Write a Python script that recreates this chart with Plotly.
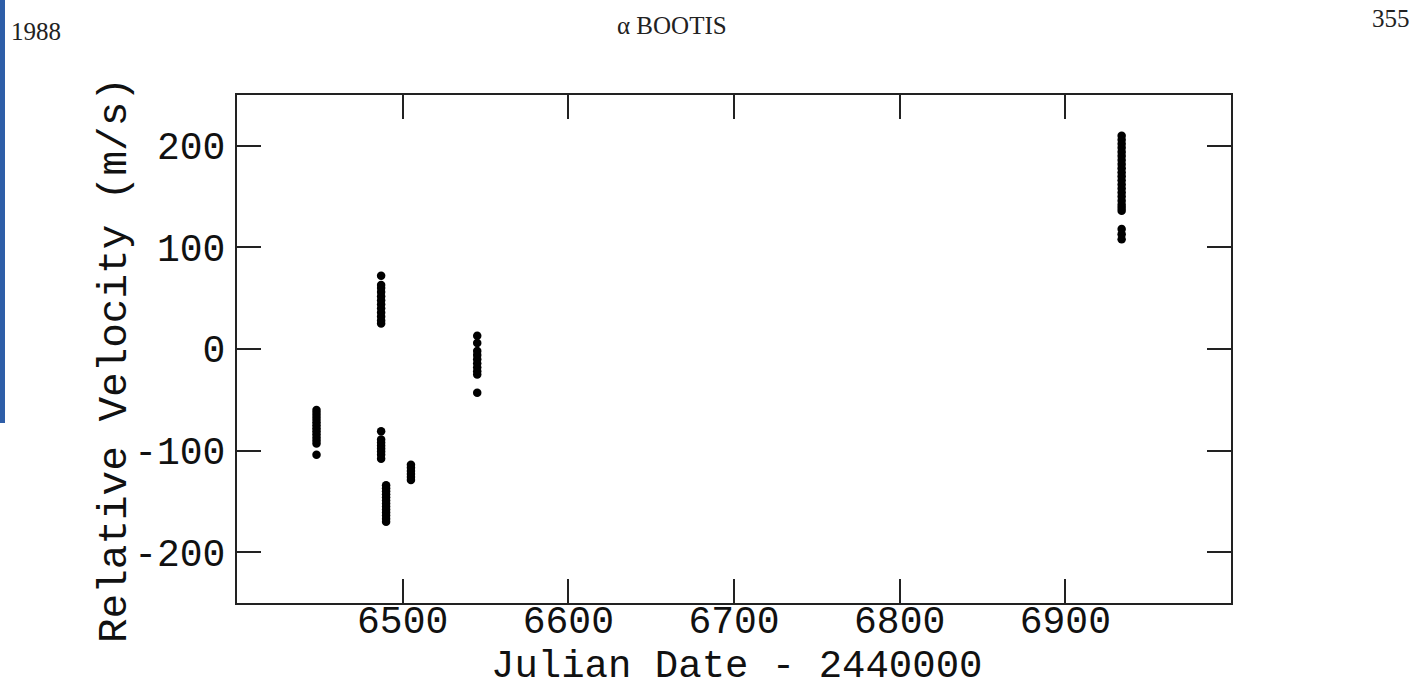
import plotly.graph_objects as go

# ---- data ----
cluster_a_x = [6448] * 13
cluster_a_y = [-60, -63, -66, -69, -72, -75, -78, -81, -84, -87, -90, -93, -104]

cluster_b1_x = [6487] * 12
cluster_b1_y = [72, 63, 60, 56, 52, 48, 44, 40, 36, 32, 28, 25]

cluster_b2_x = [6487] * 8
cluster_b2_y = [-81, -89, -92, -95, -98, -101, -104, -108]

cluster_c_x = [6490] * 13
cluster_c_y = [-134, -137, -140, -143, -146, -149, -152, -155, -158, -161, -164, -167, -170]

cluster_d_x = [6505] * 6
cluster_d_y = [-114, -117, -120, -123, -126, -129]

cluster_e_x = [6545] * 10
cluster_e_y = [13, 6, -2, -6, -10, -14, -18, -22, -25, -43]

cluster_f_x = [6934] * 23
cluster_f_y = [210, 206, 202, 198, 194, 190, 186, 182, 178, 174, 170, 166, 162,
               158, 154, 150, 146, 142, 139, 136, 118, 113, 108]

x_ticks = [6500, 6600, 6700, 6800, 6900]
y_ticks = [-200, -100, 0, 100, 200]

xs = cluster_a_x + cluster_b1_x + cluster_b2_x + cluster_c_x + cluster_d_x + cluster_e_x + cluster_f_x
ys = cluster_a_y + cluster_b1_y + cluster_b2_y + cluster_c_y + cluster_d_y + cluster_e_y + cluster_f_y

# ---- layout geometry (pixels) ----
W, H = 1422, 691
L, R, T, B = 237, 1231, 95, 603
pw, ph = R - L, B - T


def px(x):
    return (x - L) / pw


def py(y):
    return (B - y) / ph


fig = go.Figure()
fig.add_trace(go.Scatter(
    x=xs, y=ys, mode="markers",
    marker=dict(color="black", size=8.5, line=dict(width=0)),
    showlegend=False, hoverinfo="x+y",
))

tick_font = dict(family="Liberation Mono, Courier New, monospace", size=38, color="#111")
axis_common = dict(
    showline=True, linecolor="#222", linewidth=2, mirror="allticks",
    ticks="inside", ticklen=24, tickwidth=2, tickcolor="#222",
    showgrid=False, zeroline=False, tickfont=tick_font,
)

fig.update_layout(
    width=W, height=H,
    margin=dict(l=L, r=W - R, t=T, b=H - B),
    paper_bgcolor="white", plot_bgcolor="white",
    xaxis=dict(range=[6400, 7000], tickvals=x_ticks,
               ticktext=[str(v) for v in x_ticks], ticklabelstandoff=-18, **axis_common),
    yaxis=dict(range=[-250, 250], tickvals=y_ticks,
               ticktext=[str(v) for v in y_ticks], ticklabelstandoff=2, **axis_common),
)

title_font = dict(family="Liberation Mono, Courier New, monospace", size=39, color="#111")
serif = "Liberation Serif, Times New Roman, serif"

annotations = [
    dict(text="Relative Velocity (m/s)", x=px(115), y=py(360), textangle=-90,
         font=dict(title_font, size=41)),
    dict(text="Julian Date - 2440000", x=px(736), y=py(667),
         font=title_font),
    dict(text="1988", x=px(36), y=py(31),
         font=dict(family=serif, size=25, color="#222")),
    dict(text="α BOOTIS", x=px(672), y=py(25),
         font=dict(family=serif, size=25, color="#222")),
    dict(text="355", x=px(1391), y=py(18),
         font=dict(family=serif, size=25, color="#222")),
]
for a in annotations:
    a.update(xref="paper", yref="paper", xanchor="center", yanchor="middle",
             showarrow=False)
fig.update_layout(annotations=annotations)

fig.add_shape(type="rect", xref="paper", yref="paper",
              x0=px(0), x1=px(5), y0=py(423), y1=py(0),
              fillcolor="#2e5ea8", line=dict(width=0), layer="above")

fig.write_html("out.html")
